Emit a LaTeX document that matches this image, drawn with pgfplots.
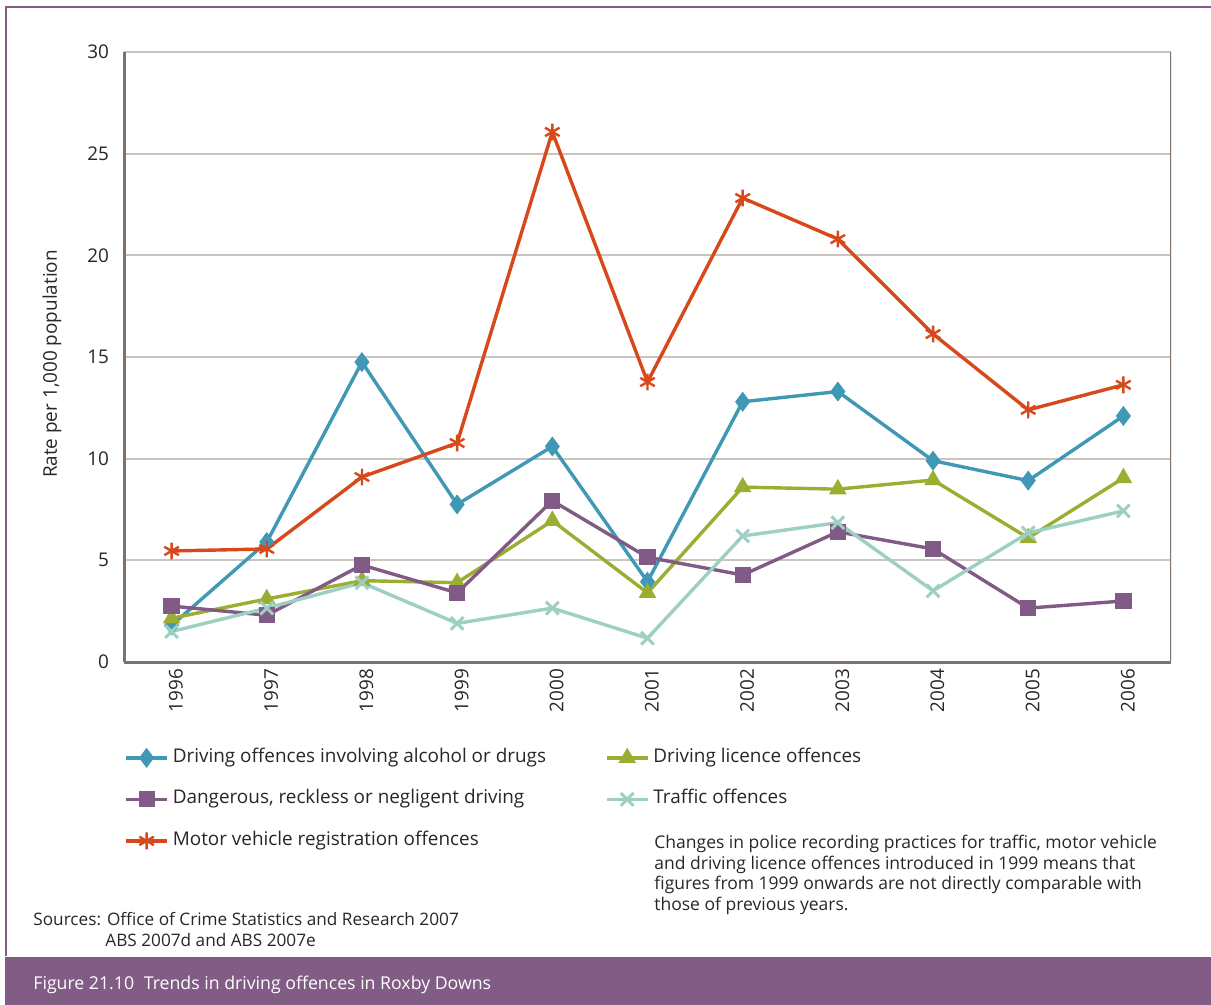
\documentclass[border=0pt]{standalone}
\usepackage{fontspec}
\setmainfont{Open Sans}
\usepackage{pgfplots}
\pgfplotsset{compat=1.18}

\definecolor{framepurple}{HTML}{815C85}
\definecolor{cAlcohol}{HTML}{3F98B4}
\definecolor{cLicence}{HTML}{9BAE31}
\definecolor{cDanger}{HTML}{825A86}
\definecolor{cTraffic}{HTML}{9DD0C3}
\definecolor{cMotor}{HTML}{D7481B}
\definecolor{gridgray}{HTML}{CAC4BF}
\definecolor{axisgray}{HTML}{7E7269}
\definecolor{textgray}{HTML}{2A2627}

\newcommand\mainfont{\fontsize{9.45}{11}\selectfont}
\newcommand\smallfont{\fontsize{8.6}{10.35}\selectfont}
\newcommand\notefont{\fontsize{8.75}{10.35}\selectfont}

\begin{document}
\begin{tikzpicture}
\path[use as bounding box] (0,0) rectangle (605.5pt,-502.5pt);
\fill[white] (0,0) rectangle (605.5pt,-502.5pt);
% page frame and caption band
\draw[framepurple, line width=1.3pt] (3pt,-478pt) -- (3pt,-3.5pt) -- (606pt,-3.5pt);
\fill[framepurple] (2.35pt,-478.5pt) rectangle (606pt,-503pt);
\node[anchor=base west, inner sep=0pt, text=white, font=\fontsize{8.85}{10}\selectfont]
  at (16.5pt,-494.5pt) {Figure 21.10\hspace{0.55em}Trends in driving offences in Roxby Downs};

\begin{axis}[
  at={(62pt,-331pt)}, anchor=south west,
  scale only axis, width=523.5pt, height=305pt,
  xmin=-0.5, xmax=10.5, ymin=0, ymax=30,
  axis lines=left,
  axis line style={-, draw=axisgray, line width=1.5pt},
  xtick={0,...,10},
  xticklabels={1996,1997,1998,1999,2000,2001,2002,2003,2004,2005,2006},
  ytick={0,5,...,30},
  major tick length=0pt,
  ymajorgrids,
  grid style={draw=gridgray, line width=1pt},
  tick label style={font=\mainfont, text=textgray},
  /pgf/number format/assume math mode=true,
  xticklabel style={rotate=90, anchor=east, yshift=-2.2pt},
  yticklabel style={xshift=-4pt},
  every axis y label/.style={at={(axis description cs:-0.0688,0.4885)}, rotate=90, anchor=center},
  ylabel={Rate per 1,000 population},
  label style={font=\mainfont, text=textgray},
  legend columns=2,
  legend style={
    at={(axis description cs:0,-0.136)}, anchor=north west,
    draw=none, fill=none, inner sep=0pt,
    font=\mainfont, text=textgray,
    row sep=8.25pt,
    nodes={inner sep=2pt, text height=6.5pt, text depth=2pt},
    /tikz/every even column/.append style={column sep=27.5pt},
  },
  legend cell align=left,
  legend image code/.code={\draw[mark repeat=2, mark phase=2] plot coordinates {(0pt,0pt) (10.25pt,0pt) (20.5pt,0pt)};},
  every axis plot/.append style={line width=1.7pt},
]
% driving offences involving alcohol or drugs
\addplot[cAlcohol, mark=diamond*, mark size=4.6pt, mark options={fill=cAlcohol, draw=cAlcohol, line width=0.5pt}]
  coordinates {(0,1.8) (1,5.9) (2,14.75) (3,7.75) (4,10.6) (5,3.95) (6,12.8) (7,13.3) (8,9.9) (9,8.92) (10,12.1)};
\addlegendentry{Driving offences involving alcohol or drugs}
% driving licence offences
\addplot[cLicence, mark=triangle*, mark size=4.6pt, mark options={fill=cLicence, draw=cLicence, line width=0.5pt}]
  coordinates {(0,2.15) (1,3.1) (2,4.0) (3,3.9) (4,6.95) (5,3.4) (6,8.6) (7,8.5) (8,8.95) (9,6.1) (10,9.05)};
\addlegendentry{Driving licence offences}
% dangerous, reckless or negligent driving
\addplot[cDanger, mark=square*, mark size=3.8pt, mark options={fill=cDanger, draw=cDanger, line width=0.5pt}]
  coordinates {(0,2.75) (1,2.3) (2,4.77) (3,3.4) (4,7.93) (5,5.15) (6,4.28) (7,6.4) (8,5.56) (9,2.65) (10,3.0)};
\addlegendentry{Dangerous, reckless or negligent driving}
% traffic offences
\addplot[cTraffic, mark=x, mark size=4.5pt, mark options={draw=cTraffic, line width=1.5pt}]
  coordinates {(0,1.5) (1,2.65) (2,3.9) (3,1.9) (4,2.65) (5,1.17) (6,6.2) (7,6.85) (8,3.5) (9,6.35) (10,7.43)};
\addlegendentry{Traffic offences}
% motor vehicle registration offences
\addplot[cMotor, mark=asterisk, mark size=4.2pt, mark options={draw=cMotor, line width=1.2pt}]
  coordinates {(0,5.46) (1,5.56) (2,9.1) (3,10.77) (4,26.07) (5,13.77) (6,22.82) (7,20.8) (8,16.13) (9,12.4) (10,13.63)};
\addlegendentry{Motor vehicle registration offences}
% right-hand border of the plot area
\draw[axisgray, line width=1pt] (rel axis cs:1,0) -- (rel axis cs:1,1);
\end{axis}

% note and sources
\node[anchor=north west, inner sep=0pt, align=left, font=\notefont, text=textgray] at (327pt,-417.3pt)
  {Changes in police recording practices for traffic, motor vehicle\\
   and driving licence offences introduced in 1999 means that\\
   figures from 1999 onwards are not directly comparable with\\
   those of previous years.};
\node[anchor=base west, inner sep=0pt, font=\smallfont, text=textgray] at (16.5pt,-462.5pt)
  {Sources: Office of Crime Statistics and Research 2007};
\node[anchor=base west, inner sep=0pt, font=\smallfont, text=textgray] at (52.5pt,-473pt)
  {ABS 2007d and ABS 2007e};
\end{tikzpicture}
\end{document}
